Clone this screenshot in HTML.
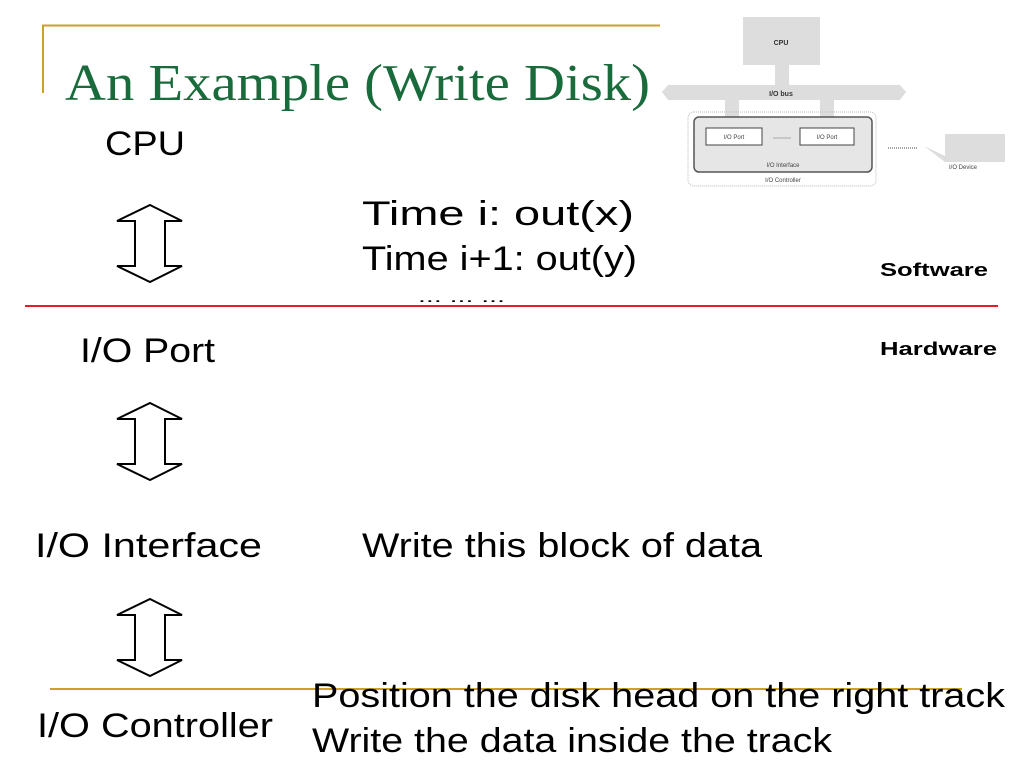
<!DOCTYPE html>
<html><head><style>body{margin:0;background:#fff}svg{display:block}</style></head><body>
<svg width="1024" height="768" viewBox="0 0 1024 768" xmlns="http://www.w3.org/2000/svg" font-family="Liberation Sans, sans-serif">
<rect width="1024" height="768" fill="#fff"/>
<!-- gold frame -->
<path d="M43 93 V25.5 H660" fill="none" stroke="#c9a227" stroke-width="2"/>
<line x1="50" y1="689" x2="962" y2="689" stroke="#c9a227" stroke-width="2"/>
<line x1="25" y1="306" x2="998" y2="306" stroke="#e02020" stroke-width="2"/>
<text x="65" y="100" font-family="Liberation Serif, serif" font-size="52" fill="#1a6b3c" textLength="585" lengthAdjust="spacingAndGlyphs">An Example (Write Disk)</text>
<!-- small diagram -->
<g>
<rect x="743" y="17" width="77" height="48" fill="#ddd"/>
<text x="781" y="45" font-size="7" font-weight="bold" text-anchor="middle" fill="#333">CPU</text>
<rect x="775" y="65" width="14" height="22" fill="#ddd"/>
<path d="M662 92 L668 85 H900 L906 92 L900 100 H668 Z" fill="#ddd"/>
<text x="781" y="96" font-size="7" font-weight="bold" text-anchor="middle" fill="#333">I/O bus</text>
<rect x="725" y="100" width="14" height="28" fill="#ddd"/>
<rect x="820" y="100" width="14" height="28" fill="#ddd"/>
<rect x="688" y="112" width="188" height="74" rx="6" fill="none" stroke="#bbb" stroke-dasharray="1 1"/>
<rect x="694" y="117" width="178" height="55" rx="5" fill="#e6e6e6" stroke="#555" stroke-width="1.5"/>
<rect x="706" y="128" width="56" height="17" fill="#fff" stroke="#444"/>
<rect x="800" y="128" width="54" height="17" fill="#fff" stroke="#444"/>
<text x="734" y="139" font-size="6" text-anchor="middle" fill="#444">I/O Port</text>
<text x="827" y="139" font-size="6" text-anchor="middle" fill="#444">I/O Port</text>
<line x1="773" y1="138" x2="791" y2="138" stroke="#aaa"/>
<text x="783" y="167" font-size="6" text-anchor="middle" fill="#444">I/O Interface</text>
<text x="783" y="182" font-size="6" text-anchor="middle" fill="#444">I/O Controller</text>
<line x1="888" y1="148" x2="918" y2="148" stroke="#444" stroke-dasharray="1 1"/>
<path d="M924 146 L945 156 V134 H1005 V162 H945 Z" fill="#ddd"/>
<text x="963" y="169" font-size="6" text-anchor="middle" fill="#444">I/O Device</text>
</g>
<!-- arrows -->
<g fill="#fff" stroke="#000" stroke-width="2">
<path d="M150 205 L182 221 H165 V266 H182 L150 282 L117 266 H135 V221 H117 Z"/>
<path d="M150 403 L182 419 H165 V464 H182 L150 480 L117 464 H135 V419 H117 Z"/>
<path d="M150 599 L182 615 H165 V660 H182 L150 676 L117 660 H135 V615 H117 Z"/>
</g>
<g fill="#000" font-size="34">
<text x="105" y="155" textLength="80" lengthAdjust="spacingAndGlyphs">CPU</text>
<text x="362" y="225" textLength="272" lengthAdjust="spacingAndGlyphs">Time i:     out(x)</text>
<text x="362" y="270" textLength="275" lengthAdjust="spacingAndGlyphs">Time i+1: out(y)</text>
<text x="418" y="302" font-size="16" textLength="87" lengthAdjust="spacingAndGlyphs">... ... ...</text>
<text x="880" y="276" font-size="18" font-weight="bold" textLength="108" lengthAdjust="spacingAndGlyphs">Software</text>
<text x="880" y="355" font-size="18" font-weight="bold" textLength="117" lengthAdjust="spacingAndGlyphs">Hardware</text>
<text x="80" y="362" textLength="135" lengthAdjust="spacingAndGlyphs">I/O Port</text>
<text x="35" y="557" textLength="227" lengthAdjust="spacingAndGlyphs">I/O Interface</text>
<text x="362" y="557" textLength="400" lengthAdjust="spacingAndGlyphs">Write this block of data</text>
<text x="37" y="737" textLength="236" lengthAdjust="spacingAndGlyphs">I/O Controller</text>
<text x="312" y="707" textLength="693" lengthAdjust="spacingAndGlyphs">Position the disk head on the right track</text>
<text x="312" y="752" textLength="520" lengthAdjust="spacingAndGlyphs">Write the data inside the track</text>
</g>
</svg>
</body></html>
